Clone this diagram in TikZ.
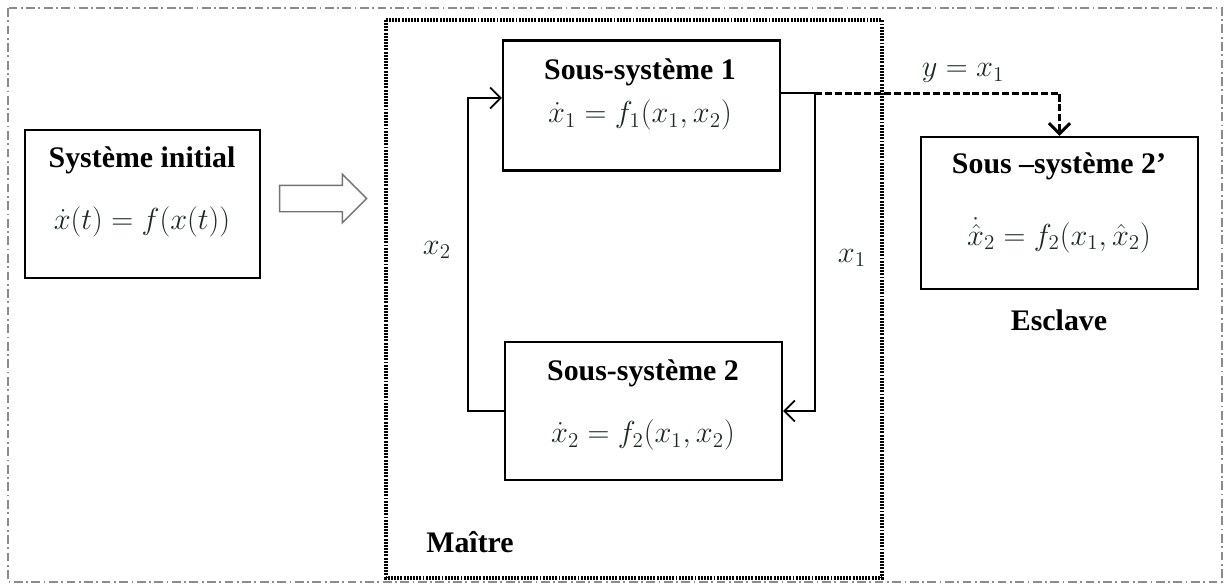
\documentclass[tikz,border=0pt]{standalone}
\usepackage{fontspec}
\setmainfont{Liberation Serif}
\usetikzlibrary{arrows.meta,shapes.arrows}

\begin{document}
\begin{tikzpicture}[x=0.02cm, y=-0.02cm,
	bloc/.style={draw, line width=1.3pt, inner sep=0pt},
	titre/.style={font=\fontsize{17}{20}\selectfont\bfseries},
	eq/.style={font=\fontsize{17.5}{20}\selectfont, text=colmath},
	fil/.style={line width=1pt},
	tiret/.style={line width=1.7pt, dash pattern=on 4pt off 1.6pt},
	>={Straight Barb[length=6pt,width=12pt]}]
	\definecolor{colmath}{HTML}{1C2A20}
	\definecolor{colcadre}{gray}{0.55}
	\definecolor{colfleche}{gray}{0.45}
	\useasboundingbox (0,0) rectangle (1225,586);
	%% Frames ------
	\draw[colcadre, line width=0.8pt, dash pattern=on 5pt off 2pt on 1pt off 2pt] (8,8) rectangle (1222,582);
	\draw[line width=1.9pt, dash pattern=on 1.1pt off 0.7pt] (386,20) rectangle (882,578);
	%% Blocks ------
	\node[bloc, minimum width=4.7cm, minimum height=2.96cm] (init) at (142.5,204) {};
	\node[bloc, minimum width=5.54cm, minimum height=2.6cm] (s1) at (641.5,105.5) {};
	\node[bloc, minimum width=5.54cm, minimum height=2.76cm] (s2) at (643.5,411) {};
	\node[bloc, minimum width=5.54cm, minimum height=3.04cm] (s2p) at (1059.5,213) {};
	%% Texts ------
	\node[titre] (initt) at (142,160) {Système initial};
	\node[eq] (inite) at (142,222) {$\dot{x}(t) = f(x(t))$};
	\node[titre] (s1t) at (640,72) {Sous-système 1};
	\node[eq] (s1e) at (640,115) {$\dot{x}_1 = f_1(x_1,x_2)$};
	\node[titre] (s2t) at (643,373) {Sous-système 2};
	\node[eq] (s2e) at (643,435) {$\dot{x}_2 = f_2(x_1,x_2)$};
	\node[titre] (s2pt) at (1059,166) {Sous –système 2’};
	\node[eq] (s2pe) at (1059,235) {$\dot{\hat{x}}_2 = f_2(x_1,\hat{x}_2)$};
	\node[titre] (esclave) at (1059,320) {Esclave};
	\node[titre] (maitre) at (470,542) {Maître};
	%% Hollow arrow ------
	\node[single arrow, draw=colfleche, line width=0.8pt, inner sep=0.25cm,
		minimum height=1.74cm, single arrow head extend=0.22cm] (fleche) at (316.5,198.5) {};
	%% Connectors ------
	\coordinate (g) at (468,98);
	\coordinate (d) at (815,93);
	\draw[fil,->] (s2.west) -| (g) -- (g -| s1.west);
	\draw[fil] (d -| s1.east) -- (d);
	\draw[fil,->] (d) |- (s2.east);
	\draw[tiret,->] (d) -| (s2p.north);
	%% Labels ------
	\node[eq] (lx2) at (437,250) {$x_2$};
	\node[eq] (lx1) at (852,258) {$x_1$};
	\node[eq] (ly) at (963,73) {$y = x_1$};
\end{tikzpicture}
\end{document}
